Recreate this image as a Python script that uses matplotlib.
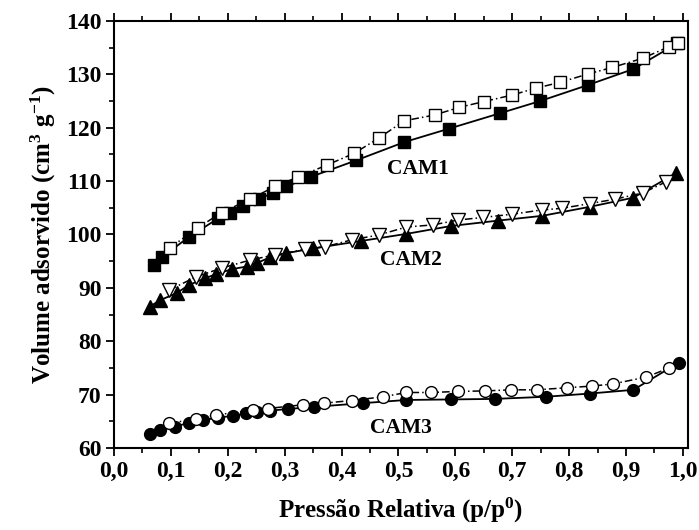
import matplotlib
matplotlib.use("Agg")
import matplotlib.pyplot as plt
from matplotlib.ticker import MultipleLocator

plt.rcParams['font.family'] = ['Liberation Serif', 'DejaVu Serif']
plt.rcParams['font.weight'] = 'bold'
plt.rcParams['mathtext.fontset'] = 'custom'
plt.rcParams['mathtext.rm'] = 'Liberation Serif:bold'
plt.rcParams['mathtext.bf'] = 'Liberation Serif:bold'
plt.rcParams['mathtext.it'] = 'Liberation Serif:bold'

# CAM1
cam1_ads_x = [0.070, 0.084, 0.131, 0.183, 0.204, 0.227, 0.254, 0.279, 0.303, 0.346,
              0.426, 0.510, 0.588, 0.678, 0.749, 0.833, 0.913, 0.990]
cam1_ads_y = [94.3, 95.7, 99.5, 103.0, 104.1, 105.3, 106.6, 107.8, 109.0, 110.8,
              113.9, 117.3, 119.8, 122.7, 125.0, 128.0, 131.0, 135.8]
cam1_des_x = [0.098, 0.148, 0.189, 0.239, 0.283, 0.324, 0.374, 0.422, 0.466, 0.510,
              0.564, 0.606, 0.650, 0.699, 0.741, 0.784, 0.834, 0.876, 0.929, 0.976, 0.992]
cam1_des_y = [97.5, 101.3, 104.1, 106.6, 109.0, 110.8, 113.0, 115.2, 118.1, 121.3,
              122.4, 123.8, 124.9, 126.1, 127.4, 128.5, 130.1, 131.3, 133.0, 135.2, 135.9]

# CAM2
cam2_ads_x = [0.063, 0.081, 0.110, 0.131, 0.160, 0.180, 0.207, 0.233, 0.252, 0.274,
              0.303, 0.350, 0.435, 0.513, 0.593, 0.675, 0.753, 0.837, 0.913, 0.988]
cam2_ads_y = [86.5, 87.7, 89.0, 90.5, 91.8, 92.6, 93.5, 94.0, 94.7, 95.7,
              96.5, 97.4, 98.8, 100.1, 101.6, 102.6, 103.5, 105.2, 106.9, 111.5]
cam2_des_x = [0.097, 0.145, 0.189, 0.239, 0.283, 0.336, 0.371, 0.418, 0.465, 0.514,
              0.561, 0.604, 0.649, 0.700, 0.752, 0.787, 0.837, 0.880, 0.930, 0.971]
cam2_des_y = [89.6, 92.1, 93.7, 95.2, 96.2, 97.2, 97.7, 99.0, 99.9, 101.4,
              101.8, 102.7, 103.2, 103.8, 104.6, 104.9, 105.8, 106.6, 107.8, 109.9]

# CAM3
cam3_ads_x = [0.063, 0.081, 0.107, 0.131, 0.157, 0.182, 0.209, 0.232, 0.252, 0.274,
              0.305, 0.351, 0.437, 0.514, 0.593, 0.669, 0.759, 0.836, 0.913, 0.993]
cam3_ads_y = [62.6, 63.4, 64.0, 64.7, 65.2, 65.7, 66.0, 66.5, 66.8, 67.0,
              67.3, 67.7, 68.4, 69.0, 69.1, 69.2, 69.6, 70.2, 70.9, 76.0]
cam3_des_x = [0.097, 0.145, 0.180, 0.244, 0.270, 0.332, 0.369, 0.418, 0.473, 0.514,
              0.558, 0.604, 0.653, 0.698, 0.743, 0.797, 0.840, 0.877, 0.936, 0.976]
cam3_des_y = [64.6, 65.5, 66.2, 67.1, 67.4, 68.1, 68.4, 68.9, 69.6, 70.4,
              70.4, 70.6, 70.7, 70.9, 70.9, 71.3, 71.6, 72.0, 73.3, 75.0]

labels = ['CAM1', 'CAM2', 'CAM3']
label_pos = [(0.534, 112.3), (0.522, 95.2), (0.504, 63.7)]

xticks = [i / 10 for i in range(11)]
xtick_labels = ['0,0', '0,1', '0,2', '0,3', '0,4', '0,5', '0,6', '0,7', '0,8', '0,9', '1,0']

fig = plt.figure(figsize=(6.99, 5.30), dpi=100)
ax = fig.add_axes([0.1631, 0.1547, 0.8212, 0.8057])

dashdot = (0, (5, 2, 1, 2))
ax.plot(cam1_ads_x, cam1_ads_y, '-', color='black', lw=1.3, marker='s', ms=8,
        mfc='black', mec='black', zorder=3)
ax.plot(cam1_des_x, cam1_des_y, linestyle=dashdot, color='black', lw=1.1, marker='s', ms=8,
        mfc='white', mec='black', mew=1.0, zorder=4)
ax.plot(cam2_ads_x, cam2_ads_y, '-', color='black', lw=1.3, marker='^', ms=10,
        mfc='black', mec='black', zorder=3)
ax.plot(cam2_des_x, cam2_des_y, linestyle=dashdot, color='black', lw=1.1, marker='v', ms=10,
        mfc='white', mec='black', mew=1.0, zorder=4)
ax.plot(cam3_ads_x, cam3_ads_y, '-', color='black', lw=1.3, marker='o', ms=8.5,
        mfc='black', mec='black', zorder=3)
ax.plot(cam3_des_x, cam3_des_y, linestyle=dashdot, color='black', lw=1.1, marker='o', ms=8.5,
        mfc='white', mec='black', mew=1.0, zorder=4)

for lab, (lx, ly) in zip(labels, label_pos):
    ax.text(lx, ly, lab, ha='center', va='center', fontsize=15.5, fontweight='bold')

ax.set_xlim(0, 1.009)
ax.set_ylim(60, 140)
ax.set_xticks(xticks)
ax.set_xticklabels(xtick_labels)
ax.xaxis.set_minor_locator(MultipleLocator(0.05))
ax.yaxis.set_major_locator(MultipleLocator(10))
ax.yaxis.set_minor_locator(MultipleLocator(5))

ax.tick_params(which='major', direction='out', length=6, width=1.3, labelsize=17, pad=3)
ax.tick_params(which='minor', direction='out', length=3.5, width=1.2)
ax.tick_params(axis='x', which='both', top=True, labeltop=False)
for s in ax.spines.values():
    s.set_linewidth(1.5)

ax.set_xlabel('Pressão Relativa (p/p$^{0}$)', fontsize=18, fontweight='bold', labelpad=10)
ax.set_ylabel('Volume adsorvido (cm$^{3}$ g$^{-1}$)', fontsize=18, fontweight='bold', labelpad=6)

fig.savefig('out.png', dpi=100)
